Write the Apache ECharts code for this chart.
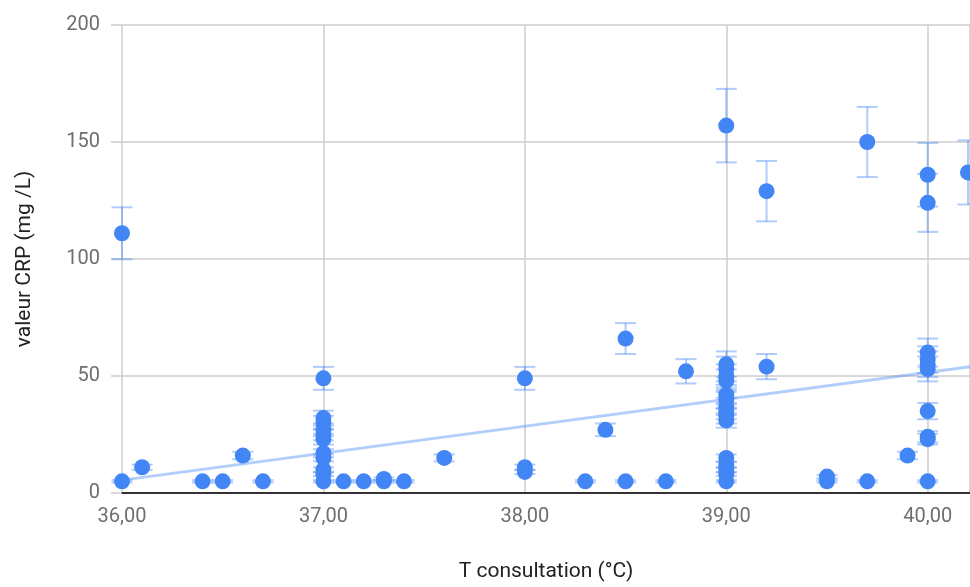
<!DOCTYPE html>
<html>
<head>
<meta charset="utf-8">
<script src="https://cdn.jsdelivr.net/npm/echarts@6/dist/echarts.min.js"></script>
<style>
html,body{margin:0;padding:0;background:#fff;}
#chart{width:970px;height:587px;}
</style>
</head>
<body>
<div id="chart"></div>
<script>
// Temperature at consultation (°C)
const temps = [
  36.0, 36.0, 36.1, 36.4, 36.5, 36.6, 36.7,
  37.0, 37.0, 37.0, 37.0, 37.0, 37.0, 37.0, 37.0, 37.0, 37.0, 37.0,
  37.1, 37.2, 37.3, 37.3, 37.4, 37.6,
  38.0, 38.0, 38.0, 38.3, 38.4, 38.5, 38.5, 38.7, 38.8,
  39.0, 39.0, 39.0, 39.0, 39.0, 39.0, 39.0, 39.0, 39.0, 39.0, 39.0, 39.0, 39.0, 39.0, 39.0, 39.0,
  39.2, 39.2, 39.5, 39.5, 39.7, 39.7, 39.9,
  40.0, 40.0, 40.0, 40.0, 40.0, 40.0, 40.0, 40.0, 40.0, 40.0,
  40.2
];
// CRP value (mg/L)
const crp = [
  5, 111, 11, 5, 5, 16, 5,
  49, 32, 30, 27, 25, 23, 17, 15, 10, 8, 5,
  5, 5, 5, 6, 5, 15,
  49, 11, 9, 5, 27, 66, 5, 5, 52,
  157, 55, 53, 50, 48, 42, 40, 37, 35, 33, 31, 15, 12, 10, 8, 5,
  129, 54, 7, 5, 150, 5, 16,
  136, 124, 60, 57, 55, 53, 35, 24, 23, 5,
  137
];
// percent error bars
const errorPct = 0.10;
// linear trendline: value at 36 °C and slope per °C
const trendAt36 = 5.5;
const trendSlope = 11.5;
const xTicks = [36, 37, 38, 39, 40];

const xMin = 36, xMax = 40.21;

const points = temps.map((t, i) => [t, crp[i]]);
const errData = temps.map((t, i) => [t, crp[i], crp[i] * (1 - errorPct), crp[i] * (1 + errorPct)]);
const trendData = [
  [xMin, trendAt36],
  [xMax, trendAt36 + trendSlope * (xMax - 36)]
];

const chart = echarts.init(document.getElementById('chart'), null, {renderer: 'canvas'});
const FONT = 'Roboto';
chart.setOption({
  animation: false,
  backgroundColor: '#ffffff',
  grid: {left: 122, top: 25, width: 850, height: 471, containLabel: false},
  xAxis: {
    type: 'value', min: xMin, max: xMax, interval: 1,
    name: 'T consultation (°C)', nameLocation: 'middle', nameGap: 68,
    nameTextStyle: {fontFamily: FONT, fontSize: 21, color: '#222'},
    axisLine: {show: true, onZero: false, lineStyle: {color: '#333', width: 2}},
    axisTick: {show: false},
    axisLabel: {
      fontFamily: FONT, fontSize: 20, color: '#6e6e6e', margin: 14, showMaxLabel: false,
      formatter: v => xTicks.includes(v) ? v.toFixed(2).replace('.', ',') : ''
    },
    splitLine: {show: true, lineStyle: {color: '#cccccc', width: 1.5}}
  },
  yAxis: {
    type: 'value', min: 0, max: 200, interval: 50,
    name: 'valeur CRP (mg /L)', nameLocation: 'middle', nameGap: 87,
    nameTextStyle: {fontFamily: FONT, fontSize: 21, color: '#222'},
    axisLine: {show: false},
    axisTick: {show: true, length: 11, lineStyle: {color: '#cccccc', width: 1.5}},
    axisLabel: {fontFamily: FONT, fontSize: 20, color: '#6e6e6e', margin: 22},
    splitLine: {show: true, lineStyle: {color: '#cccccc', width: 1.5}}
  },
  series: [
    {
      type: 'line', data: trendData, symbol: 'none', silent: true, z: 1,
      lineStyle: {color: 'rgba(66,133,244,0.4)', width: 3}
    },
    {
      type: 'custom', data: errData, z: 2, silent: true,
      renderItem: function (params, api) {
        const x = api.value(0);
        const top = api.coord([x, api.value(3)]);
        const bot = api.coord([x, api.value(2)]);
        const half = 10.5;
        const style = {stroke: 'rgba(66,133,244,0.42)', lineWidth: 2, fill: null};
        return {
          type: 'group',
          children: [
            {type: 'line', shape: {x1: top[0], y1: top[1], x2: bot[0], y2: bot[1]}, style: style},
            {type: 'line', shape: {x1: top[0] - half, y1: top[1], x2: top[0] + half, y2: top[1]}, style: style},
            {type: 'line', shape: {x1: bot[0] - half, y1: bot[1], x2: bot[0] + half, y2: bot[1]}, style: style}
          ]
        };
      }
    },
    {
      type: 'scatter', data: points, symbol: 'circle', symbolSize: 16, z: 3,
      itemStyle: {color: '#4285f4', opacity: 1}
    }
  ]
});
</script>
</body>
</html>
